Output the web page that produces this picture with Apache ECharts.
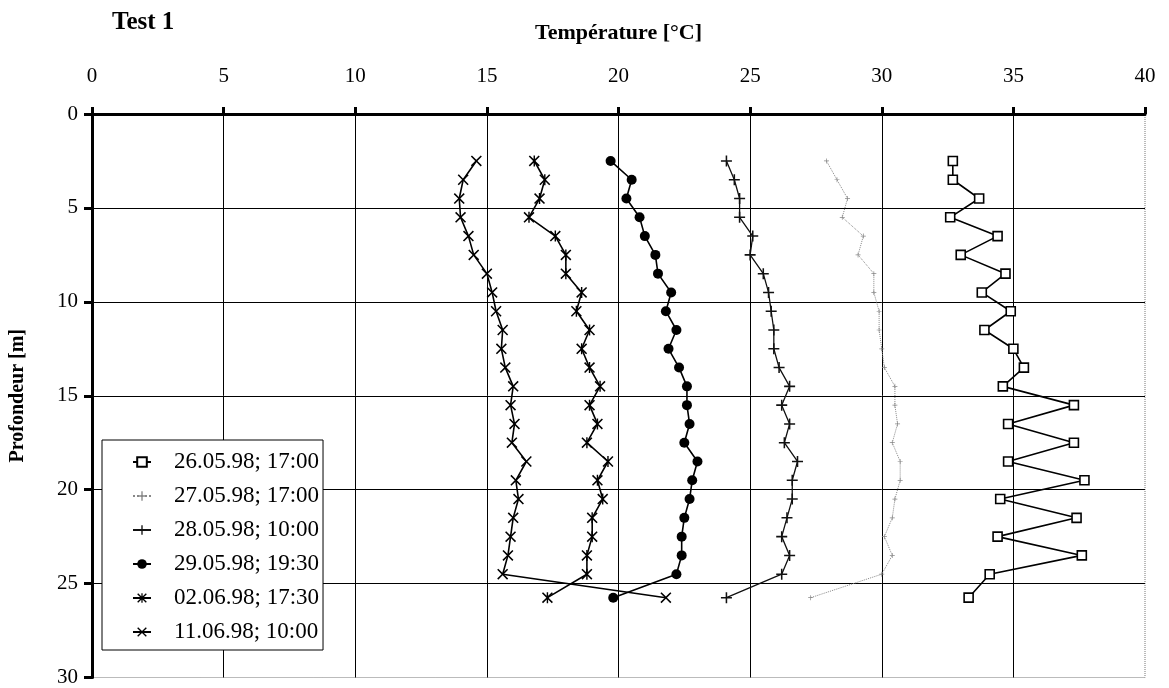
<!DOCTYPE html>
<html>
<head>
<meta charset="utf-8">
<title>Test 1</title>
<script src="https://cdn.jsdelivr.net/npm/echarts@6/dist/echarts.min.js"></script>
<style>
  html, body { margin: 0; padding: 0; background: #fff; }
  #chart { width: 1169px; height: 688px; }
</style>
</head>
<body>
<div id="chart"></div>
<script>
// profondeurs de mesure [m]
var depths = [2.5, 3.5, 4.5, 5.5, 6.5, 7.5, 8.5, 9.5, 10.5, 11.5, 12.5, 13.5,
  14.5, 15.5, 16.5, 17.5, 18.5, 19.5, 20.5, 21.5, 22.5, 23.5, 24.5, 25.75]

// températures [°C] par campagne
var t260598 = [32.7, 32.7, 33.7, 32.6, 34.4, 33.0, 34.7, 33.8, 34.9, 33.9, 35.0, 35.4,
  34.6, 37.3, 34.8, 37.3, 34.8, 37.7, 34.5, 37.4, 34.4, 37.6, 34.1, 33.3]
var t270598 = [27.9, 28.3, 28.7, 28.5, 29.3, 29.1, 29.7, 29.7, 29.9, 29.9, 30.0, 30.1,
  30.5, 30.5, 30.6, 30.4, 30.7, 30.7, 30.5, 30.4, 30.1, 30.4, 30.0, 27.3]
var t280598 = [24.1, 24.4, 24.6, 24.6, 25.1, 25.0, 25.5, 25.7, 25.8, 25.9, 25.9, 26.1,
  26.5, 26.2, 26.5, 26.3, 26.8, 26.6, 26.6, 26.4, 26.2, 26.5, 26.2, 24.1]
var t290598 = [19.7, 20.5, 20.3, 20.8, 21.0, 21.4, 21.5, 22.0, 21.8, 22.2, 21.9, 22.3,
  22.6, 22.6, 22.7, 22.5, 23.0, 22.8, 22.7, 22.5, 22.4, 22.4, 22.2, 19.8]
var t020698 = [16.8, 17.2, 17.0, 16.6, 17.6, 18.0, 18.0, 18.6, 18.4, 18.9, 18.6, 18.9,
  19.3, 18.9, 19.2, 18.8, 19.6, 19.2, 19.4, 19.0, 19.0, 18.8, 18.8, 17.3]
var t110698 = [14.6, 14.1, 13.95, 14.0, 14.3, 14.5, 15.0, 15.2, 15.35, 15.6, 15.55, 15.7,
  16.0, 15.9, 16.05, 15.95, 16.5, 16.1, 16.2, 16.0, 15.9, 15.8, 15.6, 21.8]

var xTicks = [0, 5, 10, 15, 20, 25, 30, 35, 40]
var yTicks = [0, 5, 10, 15, 20, 25, 30]

var serif = 'Liberation Serif'

// couples [température, profondeur]
function pts (temps) {
  return temps.map(function (t, i) { return [t, depths[i]] })
}

// marqueurs
var plusPath = 'path://M4.3,0h1.4v4.3h4.3v1.4h-4.3v4.3h-1.4v-4.3h-4.3v-1.4h4.3z'
var crossPath = 'path://M0,1L1,0L5,4L9,0L10,1L6,5L10,9L9,10L5,6L1,10L0,9L4,5z'
var starPath = 'path://M0,1L1,0L5,4L9,0L10,1L6,5L10,9L9,10L5,6L1,10L0,9L4,5z' +
  'M4.35,0h1.3v10h-1.3z'

var myChart = echarts.init(document.getElementById('chart'))
myChart.setOption({
  animation: false,
  title: {
    text: 'Test 1',
    left: 107,
    top: 5,
    textStyle: { fontFamily: serif, fontWeight: 'bold', fontSize: 25, color: '#000' }
  },
  grid: {
    left: 85,
    right: 24,
    top: 114,
    bottom: 7,
    show: true,
    borderColor: '#777',
    borderWidth: 1,
    borderType: 'dotted'
  },
  legend: {
    orient: 'vertical',
    left: 102,
    top: 440,
    padding: [10, 4, 6, 30],
    itemGap: 10,
    itemWidth: 18,
    itemHeight: 12,
    backgroundColor: '#fff',
    borderColor: '#000',
    borderWidth: 1,
    borderRadius: 0,
    textStyle: {
      fontFamily: serif,
      fontSize: 23,
      color: '#000',
      lineHeight: 24,
      padding: [0, 0, 0, 18]
    },
    data: ['26.05.98; 17:00', '27.05.98; 17:00', '28.05.98; 10:00',
      '29.05.98; 19:30', '02.06.98; 17:30', '11.06.98; 10:00']
  },
  xAxis: {
    type: 'value',
    position: 'top',
    min: 0,
    max: 40,
    interval: 5,
    name: 'Température [°C]',
    nameLocation: 'middle',
    nameGap: 70,
    nameTextStyle: { fontFamily: serif, fontWeight: 'bold', fontSize: 22, color: '#000' },
    axisLine: { show: true, lineStyle: { color: '#000', width: 3 } },
    axisTick: { show: true, length: 7, lineStyle: { color: '#000', width: 3 } },
    axisLabel: {
      fontFamily: serif, fontSize: 21, color: '#000', margin: 27,
      formatter: function (v) { return xTicks.indexOf(v) >= 0 ? String(v) : '' }
    },
    splitLine: { show: true, showMaxLine: false, lineStyle: { color: '#000', width: 1 } }
  },
  yAxis: {
    type: 'value',
    inverse: true,
    min: 0,
    max: 30,
    interval: 5,
    name: 'Profondeur [m]',
    nameLocation: 'middle',
    nameGap: 64,
    nameTextStyle: { fontFamily: serif, fontWeight: 'bold', fontSize: 20, color: '#000' },
    axisLine: { show: true, lineStyle: { color: '#000', width: 3 } },
    axisTick: { show: true, length: 8, lineStyle: { color: '#000', width: 3 } },
    axisLabel: {
      fontFamily: serif, fontSize: 21, color: '#000', margin: 14,
      formatter: function (v) { return yTicks.indexOf(v) >= 0 ? String(v) : '' }
    },
    splitLine: { show: true, showMaxLine: false, lineStyle: { color: '#000', width: 1 } }
  },
  series: [
    {
      name: '26.05.98; 17:00',
      type: 'line',
      data: pts(t260598),
      symbol: 'rect',
      symbolSize: 9,
      lineStyle: { color: '#000', width: 1.6 },
      itemStyle: { color: '#fff', borderColor: '#000', borderWidth: 1.6 }
    },
    {
      name: '27.05.98; 17:00',
      type: 'line',
      data: pts(t270598),
      symbol: plusPath,
      symbolSize: 5,
      lineStyle: { color: '#888', width: 1, type: 'dotted' },
      itemStyle: { color: '#888' }
    },
    {
      name: '28.05.98; 10:00',
      type: 'line',
      data: pts(t280598),
      symbol: plusPath,
      symbolSize: 11,
      lineStyle: { color: '#111', width: 1.3 },
      itemStyle: { color: '#111' }
    },
    {
      name: '29.05.98; 19:30',
      type: 'line',
      data: pts(t290598),
      symbol: 'circle',
      symbolSize: 10,
      lineStyle: { color: '#000', width: 1.6 },
      itemStyle: { color: '#000' }
    },
    {
      name: '02.06.98; 17:30',
      type: 'line',
      data: pts(t020698),
      symbol: starPath,
      symbolSize: 11,
      lineStyle: { color: '#000', width: 1.6 },
      itemStyle: { color: '#000' }
    },
    {
      name: '11.06.98; 10:00',
      type: 'line',
      data: pts(t110698),
      symbol: crossPath,
      symbolSize: 11,
      lineStyle: { color: '#000', width: 1.6 },
      itemStyle: { color: '#000' }
    }
  ]
})
</script>
</body>
</html>
